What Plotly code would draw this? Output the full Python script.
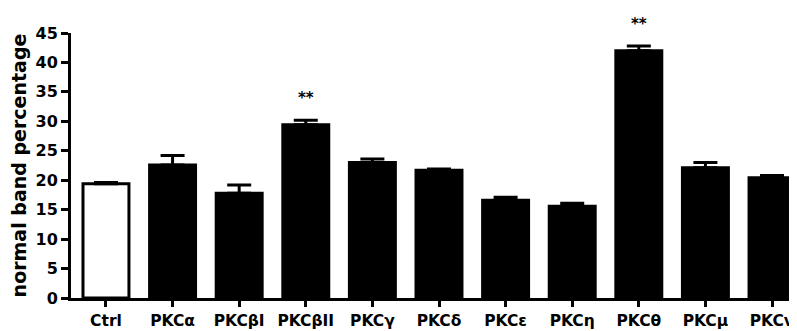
import plotly.graph_objects as go

categories = ["Ctrl", "PKCα", "PKCβI", "PKCβII", "PKCγ", "PKCδ", "PKCε", "PKCη", "PKCθ", "PKCμ", "PKCν"]
values = [19.4, 22.6, 17.8, 29.4, 23.0, 21.7, 16.6, 15.6, 42.0, 22.1, 20.4]
errors = [0.2, 1.6, 1.4, 0.8, 0.6, 0.2, 0.5, 0.5, 0.8, 0.9, 0.4]
significant = ["PKCβII", "PKCθ"]
y_ticks = [0, 5, 10, 15, 20, 25, 30, 35, 40, 45]

FONT = "DejaVu Sans"
fill = ["white"] + ["black"] * (len(categories) - 1)

fig = go.Figure()
fig.add_trace(go.Bar(
    x=categories, y=values,
    width=0.69,
    marker=dict(color=fill, line=dict(color="black", width=3)),
    error_y=dict(type="data", array=errors, arrayminus=[0] * len(errors),
                 symmetric=False, color="black", thickness=3, width=12),
    cliponaxis=False,
))

for cat in significant:
    i = categories.index(cat)
    fig.add_annotation(x=cat, y=values[i] + errors[i], yshift=22, text="**",
                       showarrow=False,
                       font=dict(family=FONT, size=15, color="black", weight="bold"))

# page body has an 8px default margin, so the figure is sized to compensate
fig.update_layout(
    width=789, height=323,
    margin=dict(l=63, r=0, t=25, b=33),
    paper_bgcolor="white", plot_bgcolor="white",
    showlegend=False,
)
fig.update_xaxes(
    range=[-0.525, 10.375],
    showline=True, linecolor="black", linewidth=3,
    ticks="outside", ticklen=6, tickwidth=3, tickcolor="black",
    showgrid=False, zeroline=False,
    tickfont=dict(family=FONT, size=15.5, color="black", weight="bold"),
)
fig.update_yaxes(
    range=[0, 45], tickvals=y_ticks,
    showline=True, linecolor="black", linewidth=3,
    ticks="outside", ticklen=7, tickwidth=3, tickcolor="black",
    showgrid=False, zeroline=False,
    tickfont=dict(family=FONT, size=16, color="black", weight="bold"),
    title=dict(text="normal band percentage", standoff=6,
               font=dict(family=FONT, size=19, color="black", weight="bold")),
)

fig.write_html("out.html")
